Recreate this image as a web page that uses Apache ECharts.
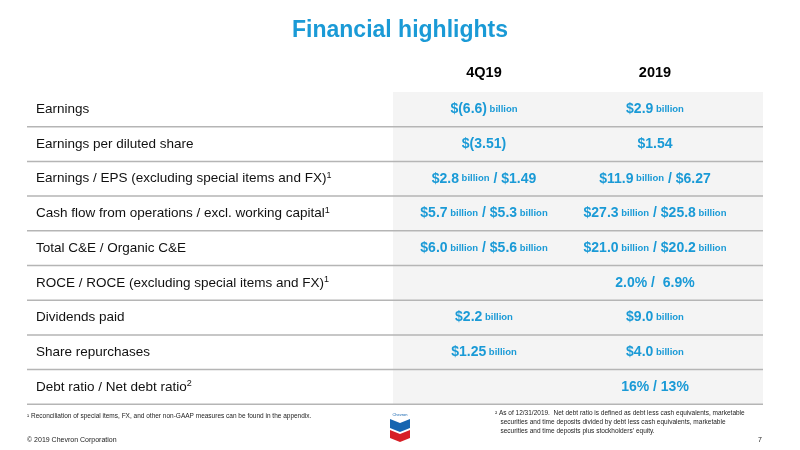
<!DOCTYPE html><html><head><meta charset="utf-8"><script src="https://cdn.jsdelivr.net/npm/echarts@6/dist/echarts.min.js"></script>
<style>html,body{margin:0;padding:0;background:#fff}#c{width:800px;height:450px}</style></head><body><div id="c"></div>
<script>
var columns = ["4Q19", "2019"];
var rowLabels = ["Earnings","Earnings per diluted share","Earnings / EPS (excluding special items and FX)¹","Cash flow from operations / excl. working capital¹","Total C&E / Organic C&E","ROCE / ROCE (excluding special items and FX)¹","Dividends paid","Share repurchases","Debt ratio / Net debt ratio²"];
var q4Values = ["$(6.6) billion","$(3.51)","$2.8 billion / $1.49","$5.7 billion / $5.3 billion","$6.0 billion / $5.6 billion","","$2.2 billion","$1.25 billion",""];
var fyValues = ["$2.9 billion","$1.54","$11.9 billion / $6.27","$27.3 billion / $25.8 billion","$21.0 billion / $20.2 billion","2.0% /  6.9%","$9.0 billion","$4.0 billion","16% / 13%"];

var blue = '#1a9ad6', F = 'Liberation Sans, Arial, sans-serif';
function fmtVal(s){
  var parts = s.split(' billion'); var out='';
  for (var i=0;i<parts.length;i++){ if(parts[i]!=='') out += '{b|'+parts[i]+'}'; if(i<parts.length-1) out += '{s| billion}'; }
  return out;
}
function fmtLabel(s){ return s.replace(/([^¹²]+)([¹²]?)/, function(m,a,b){ return '{n|'+a+'}'+(b?'{u|'+(b==='¹'?'1':'2')+'}':''); }); }
var g = [];
var top0 = 92, rh = 34.7, cx = [484, 655];
g.push({type:'rect', shape:{x:393,y:top0,width:370,height:rh*9}, style:{fill:'#f4f4f4'}});
g.push({type:'text', left:'center', top:19, style:{text:'Financial highlights', font:'bold 23px '+F, fill:blue}});
columns.forEach(function(c,i){ g.push({type:'text', x:cx[i], y:73, style:{text:c, font:'bold 14.5px '+F, fill:'#000', align:'center', verticalAlign:'middle'}}); });
rowLabels.forEach(function(l,i){
  var yc = top0 + rh*i + rh/2;
  g.push({type:'text', x:36, y:yc, style:{text:fmtLabel(l), align:'left', verticalAlign:'middle', rich:{n:{font:'13.5px '+F, fill:'#111'}, u:{font:'9px '+F, fill:'#111', verticalAlign:'top', padding:[0,0,6,0]}}}});
  [q4Values[i], fyValues[i]].forEach(function(v,j){
    if(!v) return;
    g.push({type:'text', x:cx[j], y:yc, style:{text:fmtVal(v), align:'center', verticalAlign:'middle', rich:{b:{font:'bold 14px '+F, fill:blue}, s:{font:'bold 9.5px '+F, fill:blue}}}});
  });
  g.push({type:'line', shape:{x1:27,y1:top0+rh*(i+1),x2:763,y2:top0+rh*(i+1)}, style:{stroke:'#b5b5b5', lineWidth:1.5}});
});
g.push({type:'text', x:27, y:413, style:{text:'¹ Reconciliation of special items, FX, and other non-GAAP measures can be found in the appendix.', font:'6.5px '+F, fill:'#222'}});
g.push({type:'text', x:495, y:409, style:{text:'² As of 12/31/2019.  Net debt ratio is defined as debt less cash equivalents, marketable\n   securities and time deposits divided by debt less cash equivalents, marketable\n   securities and time deposits plus stockholders\u2019 equity.', lineHeight:9, font:'6.5px '+F, fill:'#222'}});
g.push({type:'text', x:27, y:437, style:{text:'© 2019 Chevron Corporation', font:'7px '+F, fill:'#222'}});
g.push({type:'text', x:762, y:437, style:{text:'7', font:'7px '+F, fill:'#222', align:'right'}});
g.push({type:'polygon', shape:{points:[[390,419],[400,423],[410,419],[410,428],[400,432],[390,428]]}, style:{fill:'#1565b0'}});
g.push({type:'polygon', shape:{points:[[390,430],[400,434],[410,430],[410,438],[400,442],[390,438]]}, style:{fill:'#d71f26'}});
g.push({type:'text', x:400, y:413, style:{text:'Chevron', font:'4px '+F, fill:'#1565b0', align:'center'}});
var chart = echarts.init(document.getElementById('c'));
chart.setOption({graphic:g});
</script></body></html>
